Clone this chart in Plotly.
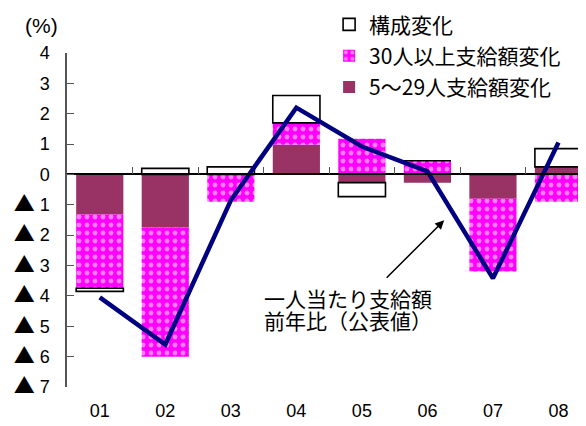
import plotly.graph_objects as go

categories = ["01", "02", "03", "04", "05", "06", "07", "08"]
small_firm = [-1.32, -1.75, 0.0, 0.98, -0.27, -0.27, -0.80, 0.25]      # 5〜29人支給額変化
large_firm = [-2.43, -4.25, -0.90, 0.72, 1.18, 0.45, -2.40, -0.90]     # 30人以上支給額変化
composition = [-0.10, 0.20, 0.25, 0.90, -0.46, 0.0, 0.0, 0.60]          # 構成変化
per_capita = [-4.05, -5.60, -0.85, 2.20, 0.92, 0.10, -3.42, 1.05]      # 一人当たり支給額前年比

y_tickvals = [4, 3, 2, 1, 0, -1, -2, -3, -4, -5, -6, -7]
TRI = "<span style='font-family:Noto Sans CJK JP;font-size:21px'>▲</span> "
y_ticktext = ["4", "3", "2", "1", "0"] + [TRI + str(n) for n in range(1, 8)]

FONT = "Liberation Sans, Noto Sans CJK JP, sans-serif"
JFONT = "Noto Sans CJK JP, sans-serif"

x_idx = list(range(len(categories)))

fig = go.Figure()
fig.add_trace(go.Bar(
    x=x_idx, y=small_firm, name="5～29人支給額変化", width=0.72,
    marker=dict(color="#993366", line=dict(width=0)), legendrank=3, legendgroup="g3",
))
fig.add_trace(go.Bar(
    x=x_idx, y=large_firm, name="30人以上支給額変化", width=0.72,
    marker=dict(color="#FF00FF", line=dict(width=0),
                pattern=dict(shape=".", fgcolor="white", bgcolor="#FF00FF",
                             size=8, solidity=0.3)),
    legendrank=2, legendgroup="g2",
))
fig.add_trace(go.Bar(
    x=x_idx, y=composition, name="構成変化", width=0.72,
    marker=dict(color="white", line=dict(color="black", width=1.6)),
    legendrank=1, legendgroup="g1",
))
fig.add_trace(go.Scatter(
    x=x_idx, y=per_capita, mode="lines", showlegend=False,
    line=dict(color="#000080", width=4.5),
))

y_lo, y_hi = -7, 4
zero_pos = (0 - y_lo) / (y_hi - y_lo)

# page body has an 8px margin, so the figure is 8px smaller than the window
fig.update_layout(
    width=578, height=418,
    margin=dict(l=59, r=0, t=45, b=39, autoexpand=False),
    paper_bgcolor="white", plot_bgcolor="white",
    barmode="relative",
    font=dict(family=FONT, size=18, color="black"),
    legend=dict(x=0.505, y=1.146, xanchor="left", yanchor="top",
                traceorder="grouped", tracegroupgap=1, itemwidth=30,
                font=dict(family=JFONT, size=21), bgcolor="rgba(0,0,0,0)"),
    xaxis=dict(
        range=[-0.5, 7.42], tickmode="array", tickvals=x_idx, ticktext=categories,
        showline=False, showgrid=False, zeroline=False, ticks="",
        ticklabelstandoff=11, tickfont=dict(size=18),
    ),
    xaxis2=dict(
        overlaying="x", matches="x", anchor="free", position=zero_pos, side="top",
        tickmode="array", tickvals=[i + 0.5 for i in x_idx[:-1]],
        ticks="outside", ticklen=7, tickcolor="#555", showticklabels=False,
        showline=True, linecolor="black", linewidth=1.5, showgrid=False, zeroline=False,
    ),
    yaxis=dict(
        range=[y_lo, y_hi], tickmode="array", tickvals=y_tickvals, ticktext=y_ticktext,
        showline=True, linecolor="#555", linewidth=1.5, ticks="inside", ticklen=7,
        tickcolor="#555", showgrid=False, zeroline=False, ticklabelstandoff=12,
        tickfont=dict(size=18),
    ),
)
# invisible trace to activate xaxis2 (zero line with category ticks)
fig.add_trace(go.Scatter(x=[0], y=[0], xaxis="x2", mode="markers",
                         marker=dict(opacity=0), showlegend=False, hoverinfo="skip"))

fig.add_annotation(text="(%)", xref="paper", yref="paper", x=-0.05, y=1.082,
                   xanchor="center", yanchor="middle", showarrow=False,
                   font=dict(family=FONT, size=21))
fig.add_annotation(text="一人当たり支給額", xref="x", yref="y",
                   x=2.47, y=-4.08, xanchor="left", yanchor="middle", align="left",
                   showarrow=False, font=dict(family=JFONT, size=21))
fig.add_annotation(text="前年比（公表値）", xref="x", yref="y",
                   x=2.47, y=-4.80, xanchor="left", yanchor="middle", align="left",
                   showarrow=False, font=dict(family=JFONT, size=21))
fig.add_annotation(text="", xref="x", yref="y", x=5.256, y=-1.51,
                   axref="x", ayref="y", ax=4.355, ay=-3.45,
                   showarrow=True, arrowhead=2, arrowsize=1.2, arrowwidth=1.5,
                   arrowcolor="black")

fig.write_html("out.html")
